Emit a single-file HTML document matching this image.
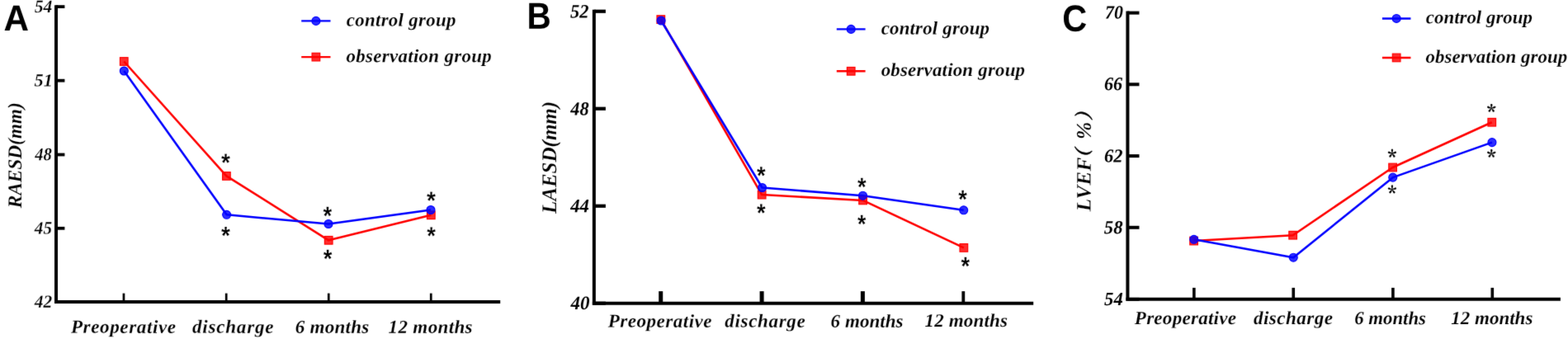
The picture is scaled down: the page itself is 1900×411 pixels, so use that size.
<!DOCTYPE html>
<html lang="en"><head><meta charset="utf-8"><title>Figure</title>
<style>html,body{margin:0;padding:0;background:#fff}body{width:1900px;height:411px;overflow:hidden}svg{display:block}.t{font-family:'Liberation Serif',serif;font-weight:bold;font-style:italic;fill:#000}.L{font-family:'Liberation Sans',sans-serif;font-weight:bold;fill:#000}.a{font-family:'Liberation Sans',sans-serif;font-weight:bold;fill:#000}.cb{font-family:'Liberation Serif','Noto Serif CJK SC','Noto Sans CJK SC',serif;font-weight:bold;font-style:italic;fill:#000}.sb{font-family:'Noto Serif CJK SC','Liberation Serif',serif;font-weight:bold;fill:#000}</style></head><body>
<svg width="1900" height="411" viewBox="0 0 1900 411">
<defs><filter id="bl" filterUnits="userSpaceOnUse" x="0" y="0" width="1900" height="411" color-interpolation-filters="sRGB"><feConvolveMatrix order="3" kernelMatrix="0.00640 0.06720 0.00640 0.06720 0.70560 0.06720 0.00640 0.06720 0.00640" divisor="1" edgeMode="duplicate" preserveAlpha="false"/></filter></defs>
<rect x="0" y="0" width="1900" height="411" fill="#fff"/>
<g filter="url(#bl)">
<g id="panel-A">
<line x1="68" y1="6.2" x2="68" y2="368.05" stroke="#000" stroke-width="4"/>
<line x1="66" y1="366.05" x2="606.2" y2="366.05" stroke="#000" stroke-width="4"/>
<line x1="68" y1="8.1" x2="78.4" y2="8.1" stroke="#000" stroke-width="3.8"/>
<line x1="68" y1="97.7" x2="78.4" y2="97.7" stroke="#000" stroke-width="3.8"/>
<line x1="68" y1="187.5" x2="78.4" y2="187.5" stroke="#000" stroke-width="3.8"/>
<line x1="68" y1="276.8" x2="78.4" y2="276.8" stroke="#000" stroke-width="3.8"/>
<line x1="68" y1="366.05" x2="78.4" y2="366.05" stroke="#000" stroke-width="3.8"/>
<line x1="149.95" y1="366.05" x2="149.95" y2="355.6" stroke="#000" stroke-width="2.7"/>
<line x1="274.2" y1="366.05" x2="274.2" y2="355.6" stroke="#000" stroke-width="2.7"/>
<line x1="398.25" y1="366.05" x2="398.25" y2="355.6" stroke="#000" stroke-width="2.7"/>
<line x1="522.25" y1="366.05" x2="522.25" y2="355.6" stroke="#000" stroke-width="2.7"/>
<text class="t" transform="translate(41.63,15.05) rotate(0.03) scale(0.9937,1)" font-size="21.8" stroke="#fff" stroke-width="0.2" stroke-linejoin="round">54</text>
<text class="t" transform="translate(41.48,104.58) rotate(0.03) scale(1.0200,1)" font-size="21.8" letter-spacing="0.12" stroke="#fff" stroke-width="0.2" stroke-linejoin="round">51</text>
<text class="t" transform="translate(42.15,194.22) rotate(0.03) scale(0.9446,1)" font-size="21.8" stroke="#fff" stroke-width="0.2" stroke-linejoin="round">48</text>
<text class="t" transform="translate(41.83,283.57) rotate(0.03) scale(0.9744,1)" font-size="21.8" stroke="#fff" stroke-width="0.2" stroke-linejoin="round">45</text>
<text class="t" transform="translate(41.8,372.8) rotate(0.03) scale(0.9849,1)" font-size="21.8" stroke="#fff" stroke-width="0.2" stroke-linejoin="round">42</text>
<text class="t" transform="translate(85.92,403.6) rotate(0.03) scale(1.0200,1)" font-size="22.6" letter-spacing="0.61" stroke="#fff" stroke-width="0.15" stroke-linejoin="round">Preoperative</text>
<text class="t" transform="translate(233,403.6) rotate(0.03) scale(1.0200,1)" font-size="22.6" letter-spacing="0.77" stroke="#fff" stroke-width="0.15" stroke-linejoin="round">discharge</text>
<text class="t" transform="translate(357.65,403.8) rotate(0.03) scale(1.0200,1)" font-size="22.6" letter-spacing="0.26" stroke="#fff" stroke-width="0.15" stroke-linejoin="round">6 months</text>
<text class="t" transform="translate(470.5,403.8) rotate(0.03) scale(1.0200,1)" font-size="22.6" letter-spacing="0.35" stroke="#fff" stroke-width="0.15" stroke-linejoin="round">12 months</text>
<text class="t" transform="translate(25.9,252.15) rotate(-89.97) scale(0.9685,1)" font-size="24" stroke="#fff" stroke-width="0.15" stroke-linejoin="round">RAESD(mm)</text>
<polyline points="150.25,74.5 274.4,213.4 398.2,291.3 522.3,260.8" fill="none" stroke="#ff0000" stroke-width="2.55" stroke-linejoin="round"/>
<polyline points="150.3,86 274.65,260.3 398,271.5 521.95,254.5" fill="none" stroke="#0000ff" stroke-width="2.55" stroke-linejoin="round"/>
<line x1="365.2" y1="25.4" x2="400.5" y2="25.4" stroke="#0000ff" stroke-width="2.4"/>
<line x1="365.2" y1="69.1" x2="400.5" y2="69.1" stroke="#ff0000" stroke-width="2.4"/>
<g fill="#ff0000" fill-opacity="0.82" stroke="#ff0000" stroke-width="1.2"><rect x="145.45" y="69.7" width="9.6" height="9.6"/><rect x="269.6" y="208.6" width="9.6" height="9.6"/><rect x="393.4" y="286.5" width="9.6" height="9.6"/><rect x="517.5" y="256" width="9.6" height="9.6"/><rect x="378.1" y="64.3" width="9.6" height="9.6"/></g>
<g fill="#0000ff" fill-opacity="0.82" stroke="#0000ff" stroke-width="1.2"><ellipse cx="150.3" cy="86" rx="4.95" ry="4.95"/><ellipse cx="274.65" cy="260.3" rx="4.95" ry="4.95"/><ellipse cx="398" cy="271.5" rx="4.95" ry="4.95"/><ellipse cx="521.95" cy="254.5" rx="4.95" ry="4.95"/><ellipse cx="382.9" cy="25.4" rx="4.95" ry="4.95"/></g>
<text class="a" transform="translate(267.9,207.38) rotate(0.03) scale(0.9133,1)" font-size="30.73" stroke="#fff" stroke-width="0.25" stroke-linejoin="round">*</text>
<text class="a" transform="translate(267.9,295.88) rotate(0.03) scale(0.9133,1)" font-size="30.73" stroke="#fff" stroke-width="0.25" stroke-linejoin="round">*</text>
<text class="a" transform="translate(391.4,271.88) rotate(0.03) scale(0.8917,1)" font-size="30.82" stroke="#fff" stroke-width="0.25" stroke-linejoin="round">*</text>
<text class="a" transform="translate(391.65,324.12) rotate(0.03) scale(0.8911,1)" font-size="30.73" stroke="#fff" stroke-width="0.25" stroke-linejoin="round">*</text>
<text class="a" transform="translate(517.02,253.62) rotate(0.03) scale(0.9133,1)" font-size="30.73" stroke="#fff" stroke-width="0.25" stroke-linejoin="round">*</text>
<text class="a" transform="translate(517.28,295.88) rotate(0.03) scale(0.9104,1)" font-size="30.08" stroke="#fff" stroke-width="0.25" stroke-linejoin="round">*</text>
<text class="t" transform="translate(419.73,31.5) rotate(0.03) scale(1.0200,1)" font-size="22.4" letter-spacing="0.32" stroke="#fff" stroke-width="0.15" stroke-linejoin="round">control group</text>
<text class="t" transform="translate(419.6,75.2) rotate(0.03) scale(1.0200,1)" font-size="22.4" letter-spacing="0.33" stroke="#fff" stroke-width="0.15" stroke-linejoin="round">observation group</text>
<text class="L" transform="translate(4.52,36.9) rotate(0.03) scale(0.9611,1)" font-size="43.95">A</text>
</g>
<g id="panel-B">
<line x1="719.85" y1="11.65" x2="719.85" y2="369.7" stroke="#000" stroke-width="4"/>
<line x1="717.85" y1="367.7" x2="1252.2" y2="367.7" stroke="#000" stroke-width="4"/>
<line x1="719.85" y1="13.75" x2="733.9" y2="13.75" stroke="#000" stroke-width="4.2"/>
<line x1="719.85" y1="131.75" x2="733.9" y2="131.75" stroke="#000" stroke-width="4.2"/>
<line x1="719.85" y1="249.75" x2="733.9" y2="249.75" stroke="#000" stroke-width="4.2"/>
<line x1="719.85" y1="367.7" x2="733.9" y2="367.7" stroke="#000" stroke-width="4.2"/>
<line x1="800.7" y1="367.7" x2="800.7" y2="353.1" stroke="#000" stroke-width="5"/>
<line x1="923.1" y1="367.7" x2="923.1" y2="353.1" stroke="#000" stroke-width="5"/>
<line x1="1045.4" y1="367.7" x2="1045.4" y2="353.1" stroke="#000" stroke-width="5"/>
<line x1="1167.3" y1="367.7" x2="1167.3" y2="353.1" stroke="#000" stroke-width="3.8"/>
<text class="t" transform="translate(691,21.48) rotate(0.03) scale(0.9627,1)" font-size="23.3">52</text>
<text class="t" transform="translate(691.3,139.38) rotate(0.03) scale(0.9547,1)" font-size="23.3">48</text>
<text class="t" transform="translate(691.25,257.2) rotate(0.03) scale(0.9771,1)" font-size="23.3">44</text>
<text class="t" transform="translate(691.43,374.9) rotate(0.03) scale(0.9838,1)" font-size="23.3">40</text>
<text class="t" transform="translate(736.7,396.6) rotate(0.03) scale(1.0200,1)" font-size="22.6" letter-spacing="0.5" stroke="#fff" stroke-width="0.15" stroke-linejoin="round">Preoperative</text>
<text class="t" transform="translate(878.33,396.6) rotate(0.03) scale(1.0200,1)" font-size="22.6" letter-spacing="0.63" stroke="#fff" stroke-width="0.15" stroke-linejoin="round">discharge</text>
<text class="t" transform="translate(1006.62,396.7) rotate(0.03) scale(1.0200,1)" font-size="22.6" letter-spacing="0.02" stroke="#fff" stroke-width="0.15" stroke-linejoin="round">6 months</text>
<text class="t" transform="translate(1120.5,395.9) rotate(0.03) scale(1.0200,1)" font-size="22.6" letter-spacing="0.16" stroke="#fff" stroke-width="0.15" stroke-linejoin="round">12 months</text>
<text class="t" transform="translate(674,259) rotate(-89.97) scale(0.9803,1)" font-size="25.5" stroke="#fff" stroke-width="0.15" stroke-linejoin="round">LAESD(mm)</text>
<polyline points="800.8,23.6 923.15,236.1 1045.6,242.9 1167.85,300.4" fill="none" stroke="#ff0000" stroke-width="2.55" stroke-linejoin="round"/>
<polyline points="801.1,25 923.55,227.5 1045.5,237.2 1167.7,254.8" fill="none" stroke="#0000ff" stroke-width="2.55" stroke-linejoin="round"/>
<line x1="1013.8" y1="35.4" x2="1048.6" y2="35.4" stroke="#0000ff" stroke-width="2.4"/>
<line x1="1013.8" y1="86.3" x2="1048.6" y2="86.3" stroke="#ff0000" stroke-width="2.4"/>
<g fill="#ff0000" fill-opacity="0.82" stroke="#ff0000" stroke-width="1.2"><rect x="796" y="18.8" width="9.6" height="9.6"/><rect x="918.35" y="231.3" width="9.6" height="9.6"/><rect x="1040.8" y="238.1" width="9.6" height="9.6"/><rect x="1163.05" y="295.6" width="9.6" height="9.6"/><rect x="1026.4" y="81.5" width="9.6" height="9.6"/></g>
<g fill="#0000ff" fill-opacity="0.82" stroke="#0000ff" stroke-width="1.2"><ellipse cx="801.1" cy="25" rx="4.95" ry="4.95"/><ellipse cx="923.55" cy="227.5" rx="4.95" ry="4.95"/><ellipse cx="1045.5" cy="237.2" rx="4.95" ry="4.95"/><ellipse cx="1167.7" cy="254.8" rx="4.95" ry="4.95"/><ellipse cx="1031.2" cy="35.4" rx="4.95" ry="4.95"/></g>
<text class="a" transform="translate(917.12,223.13) rotate(0.03) scale(0.8855,1)" font-size="30.73" stroke="#fff" stroke-width="0.25" stroke-linejoin="round">*</text>
<text class="a" transform="translate(917,268.62) rotate(0.03) scale(0.8860,1)" font-size="30.73" stroke="#fff" stroke-width="0.25" stroke-linejoin="round">*</text>
<text class="a" transform="translate(1039,236.88) rotate(0.03) scale(0.8839,1)" font-size="30.84" stroke="#fff" stroke-width="0.25" stroke-linejoin="round">*</text>
<text class="a" transform="translate(1039,282.12) rotate(0.03) scale(0.8639,1)" font-size="30.73" stroke="#fff" stroke-width="0.25" stroke-linejoin="round">*</text>
<text class="a" transform="translate(1161.25,252.12) rotate(0.03) scale(0.8860,1)" font-size="30.73" stroke="#fff" stroke-width="0.25" stroke-linejoin="round">*</text>
<text class="a" transform="translate(1164.5,333.12) rotate(0.03) scale(0.8855,1)" font-size="30.73" stroke="#fff" stroke-width="0.25" stroke-linejoin="round">*</text>
<text class="t" transform="translate(1067.65,41.5) rotate(0.03) scale(1.0200,1)" font-size="22.4" letter-spacing="0.21" stroke="#fff" stroke-width="0.15" stroke-linejoin="round">control group</text>
<text class="t" transform="translate(1067.63,92) rotate(0.03) scale(1.0200,1)" font-size="22.4" letter-spacing="0.23" stroke="#fff" stroke-width="0.15" stroke-linejoin="round">observation group</text>
<text class="L" transform="translate(638.57,34.73) rotate(0.03) scale(0.8977,1)" font-size="45.03">B</text>
</g>
<g id="panel-C">
<line x1="1366.4" y1="13.6" x2="1366.4" y2="364.85" stroke="#000" stroke-width="4"/>
<line x1="1364.4" y1="362.85" x2="1890.9" y2="362.85" stroke="#000" stroke-width="4"/>
<line x1="1366.4" y1="15.6" x2="1380.45" y2="15.6" stroke="#000" stroke-width="4"/>
<line x1="1366.4" y1="102.3" x2="1380.45" y2="102.3" stroke="#000" stroke-width="4"/>
<line x1="1366.4" y1="189.1" x2="1380.45" y2="189.1" stroke="#000" stroke-width="4"/>
<line x1="1366.4" y1="275.8" x2="1380.45" y2="275.8" stroke="#000" stroke-width="4"/>
<line x1="1366.4" y1="362.85" x2="1380.45" y2="362.85" stroke="#000" stroke-width="4"/>
<line x1="1446.85" y1="362.85" x2="1446.85" y2="348.9" stroke="#000" stroke-width="3.6"/>
<line x1="1567.25" y1="362.85" x2="1567.25" y2="348.9" stroke="#000" stroke-width="3.6"/>
<line x1="1687.9" y1="362.85" x2="1687.9" y2="348.9" stroke="#000" stroke-width="3.6"/>
<line x1="1808.3" y1="362.85" x2="1808.3" y2="348.9" stroke="#000" stroke-width="3.6"/>
<text class="t" transform="translate(1339.02,22.48) rotate(0.03) scale(0.9506,1)" font-size="22.9">70</text>
<text class="t" transform="translate(1338.05,109.33) rotate(0.03) scale(0.9654,1)" font-size="22.9">66</text>
<text class="t" transform="translate(1337.95,196.47) rotate(0.03) scale(0.9783,1)" font-size="22.9">62</text>
<text class="t" transform="translate(1337.85,283.25) rotate(0.03) scale(0.9872,1)" font-size="22.9">58</text>
<text class="t" transform="translate(1338.1,370.1) rotate(0.03) scale(0.9886,1)" font-size="22.9">54</text>
<text class="t" transform="translate(1374.8,393) rotate(0.03) scale(1.0200,1)" font-size="22.6" letter-spacing="0.26" stroke="#fff" stroke-width="0.15" stroke-linejoin="round">Preoperative</text>
<text class="t" transform="translate(1518.95,393) rotate(0.03) scale(1.0200,1)" font-size="22.6" letter-spacing="0.47" stroke="#fff" stroke-width="0.15" stroke-linejoin="round">discharge</text>
<text class="t" transform="translate(1641.22,393.1) rotate(0.03) scale(1.0085,1)" font-size="22.6" stroke="#fff" stroke-width="0.15" stroke-linejoin="round">6 months</text>
<text class="t" transform="translate(1758.2,393) rotate(0.03) scale(1.0194,1)" font-size="22.6" stroke="#fff" stroke-width="0.15" stroke-linejoin="round">12 months</text>
<text class="t" transform="translate(1321.6,256.18) rotate(-89.97)"><tspan x="0" y="0" font-size="25" letter-spacing="0.29" stroke="#fff" stroke-width="0.15" stroke-linejoin="round">LVEF</tspan><tspan x="52.58" y="-0.4" font-size="22.4" class="cb" stroke="#000" stroke-width="0.5" stroke-linejoin="round">（</tspan><tspan x="87.3" y="0.15" font-size="25.41" stroke="#fff" stroke-width="0.15" stroke-linejoin="round">%</tspan><tspan x="109.83" y="-0.2" font-size="22.4" class="cb" stroke="#000" stroke-width="0.5" stroke-linejoin="round">）</tspan></text>
<polyline points="1446.6,292.05 1566.65,285.2 1687.6,203 1807.75,148.25" fill="none" stroke="#ff0000" stroke-width="2.55" stroke-linejoin="round"/>
<polyline points="1446.75,290.3 1567.25,312.2 1687.75,215.15 1807.95,172.6" fill="none" stroke="#0000ff" stroke-width="2.55" stroke-linejoin="round"/>
<line x1="1674.9" y1="22.45" x2="1709.45" y2="22.45" stroke="#0000ff" stroke-width="2.4"/>
<line x1="1674.9" y1="69.95" x2="1709.45" y2="69.95" stroke="#ff0000" stroke-width="2.4"/>
<g fill="#ff0000" fill-opacity="0.82" stroke="#ff0000" stroke-width="1.2"><rect x="1441.8" y="287.25" width="9.6" height="9.6"/><rect x="1561.85" y="280.4" width="9.6" height="9.6"/><rect x="1682.8" y="198.2" width="9.6" height="9.6"/><rect x="1802.95" y="143.45" width="9.6" height="9.6"/><rect x="1687.35" y="65.15" width="9.6" height="9.6"/></g>
<g fill="#0000ff" fill-opacity="0.82" stroke="#0000ff" stroke-width="1.2"><ellipse cx="1446.75" cy="290.3" rx="4.95" ry="4.95"/><ellipse cx="1567.25" cy="312.2" rx="4.95" ry="4.95"/><ellipse cx="1687.75" cy="215.15" rx="4.95" ry="4.95"/><ellipse cx="1807.95" cy="172.6" rx="4.95" ry="4.95"/><ellipse cx="1692.15" cy="22.45" rx="4.95" ry="4.95"/></g>
<text class="sb" transform="translate(1681.55,199.45) rotate(0.03) scale(0.9858,1)" font-size="22.57" stroke="#000" stroke-width="0.25" stroke-linejoin="round">*</text>
<text class="sb" transform="translate(1681.55,242.95) rotate(0.03) scale(0.9978,1)" font-size="22.29" stroke="#000" stroke-width="0.25" stroke-linejoin="round">*</text>
<text class="sb" transform="translate(1801.68,144.33) rotate(0.03) scale(1.0238,1)" font-size="22" stroke="#000" stroke-width="0.25" stroke-linejoin="round">*</text>
<text class="sb" transform="translate(1801.68,199.33) rotate(0.03) scale(1.0238,1)" font-size="22" stroke="#000" stroke-width="0.25" stroke-linejoin="round">*</text>
<text class="t" transform="translate(1727.85,28.3) rotate(0.03) scale(1.0200,1)" font-size="22.4" letter-spacing="0.02" stroke="#fff" stroke-width="0.15" stroke-linejoin="round">control group</text>
<text class="t" transform="translate(1727.58,75.9) rotate(0.03) scale(1.0200,1)" font-size="22.4" letter-spacing="0.06" stroke="#fff" stroke-width="0.15" stroke-linejoin="round">observation group</text>
<text class="L" transform="translate(1287.33,37.65) rotate(0.03) scale(0.9213,1)" font-size="45">C</text>
</g>
</g>
</svg></body></html>
